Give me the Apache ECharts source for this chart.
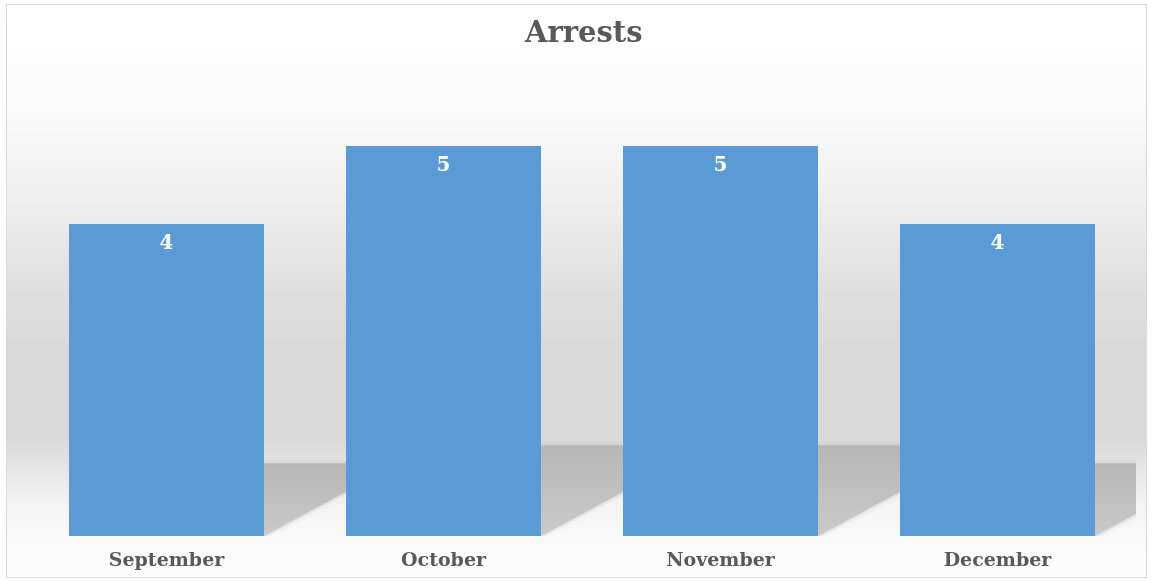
<!DOCTYPE html>
<html>
<head>
<meta charset="utf-8">
<script src="https://cdn.jsdelivr.net/npm/echarts@6/dist/echarts.min.js"></script>
<style>
html,body{margin:0;padding:0;background:#fff;}
#frame{position:absolute;left:6px;top:4px;width:1139px;height:572px;border:1px solid #d9d9d9;
background:linear-gradient(to bottom,#ffffff 0%,#fbfbfb 18%,#efefef 34%,#dfdfdf 50%,#d9d9d9 60%,#d9d9d9 76%,#e6e6e6 81%,#f3f3f3 87%,#fafafa 93%,#fcfcfc 100%);}
#chart{position:absolute;left:0;top:0;width:1153px;height:581px;}
</style>
</head>
<body>
<div id="frame"></div>
<div id="chart"></div>
<script>
const title = 'Arrests';
const categories = ['September', 'October', 'November', 'December'];
const arrests = [4, 5, 5, 4];
const yMax = 6;

const chart = echarts.init(document.getElementById('chart'), null, {renderer: 'canvas'});
const BAR_FRAC = 0.704;
const serif = '"DejaVu Serif", "Liberation Serif", serif';

chart.setOption({
  backgroundColor: 'transparent',
  animation: false,
  title: {
    text: title, left: 520, top: 15,
    textStyle: {fontFamily: serif, fontWeight: 'bold', fontSize: 29, color: '#595959'}
  },
  grid: {left: 28, right: 17, top: 68, bottom: 45, containLabel: false},
  xAxis: {
    type: 'category', data: categories,
    axisLine: {show: false}, axisTick: {show: false},
    axisLabel: {margin: 16, fontFamily: serif, fontWeight: 'bold', fontSize: 19, color: '#595959'}
  },
  yAxis: {
    type: 'value', min: 0, max: yMax, show: false, splitLine: {show: false}
  },
  series: [
    {
      type: 'custom', z: 1, clip: true, silent: true,
      data: arrests.map((v, i) => [i, v]),
      renderItem: function (params, api) {
        const i = api.value(0), v = api.value(1);
        const base = api.coord([i, 0]);
        const top = api.coord([i, v]);
        const w = api.size([1, 0])[0] * BAR_FRAC;
        const x0 = base[0] - w / 2, x1 = base[0] + w / 2;
        const h = (base[1] - top[1]) * 0.232;
        const dx = h * 1.85;
        const y0 = base[1];
        return {
          type: 'polygon',
          shape: {points: [[x0, y0], [x1, y0], [x1 + dx, y0 - h], [x0 + dx, y0 - h]]},
          style: {
            fill: new echarts.graphic.LinearGradient(0, 0, 0, 1, [
              {offset: 0, color: '#b6b6b6'},
              {offset: 1, color: '#cacaca'}
            ]),
            shadowBlur: 4, shadowColor: 'rgba(160,160,160,0.6)'
          }
        };
      }
    },
    {
      type: 'bar', z: 2,
      data: arrests,
      barWidth: (BAR_FRAC * 100) + '%',
      itemStyle: {color: '#5b9bd5'},
      label: {
        show: true, position: 'insideTop', distance: 10,
        fontFamily: serif, fontWeight: 'bold', fontSize: 20, color: '#ffffff'
      }
    }
  ]
});
</script>
</body>
</html>
